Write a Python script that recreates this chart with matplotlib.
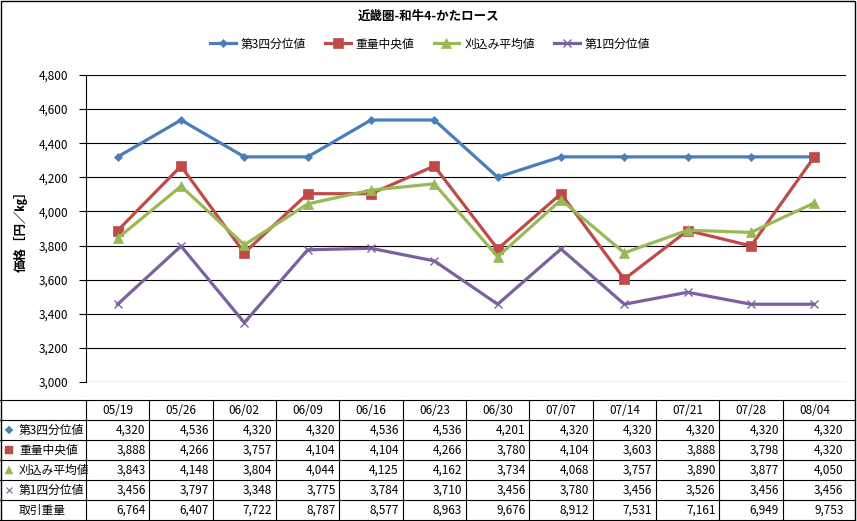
import matplotlib
matplotlib.use("Agg")
import matplotlib.pyplot as plt
from matplotlib.lines import Line2D
from matplotlib.patches import Rectangle
from matplotlib.transforms import blended_transform_factory

plt.rcParams['font.family'] = ['Noto Sans CJK JP', 'DejaVu Sans']

dates = ["05/19", "05/26", "06/02", "06/09", "06/16", "06/23", "06/30",
         "07/07", "07/14", "07/21", "07/28", "08/04"]
q3 = [4320, 4536, 4320, 4320, 4536, 4536, 4201, 4320, 4320, 4320, 4320, 4320]
median = [3888, 4266, 3757, 4104, 4104, 4266, 3780, 4104, 3603, 3888, 3798, 4320]
mean = [3843, 4148, 3804, 4044, 4125, 4162, 3734, 4068, 3757, 3890, 3877, 4050]
q1 = [3456, 3797, 3348, 3775, 3784, 3710, 3456, 3780, 3456, 3526, 3456, 3456]
volume = [6764, 6407, 7722, 8787, 8577, 8963, 9676, 8912, 7531, 7161, 6949, 9753]

names = ["第3四分位値", "重量中央値", "刈込み平均値", "第1四分位値"]
series = [q3, median, mean, q1]
colors = ["#4A7EBB", "#BE4B48", "#98B954", "#7D60A0"]
markers = ["D", "s", "^", "x"]
msizes = [4.5, 6.5, 7, 6]

W, H = 857, 521
fig = plt.figure(figsize=(W / 100, H / 100), dpi=100)

def fx(x):
    return x / W

def fy(y):
    return 1 - y / H

left, right, top, bottom = 86, 846, 75, 382
ax = fig.add_axes([fx(left), fy(bottom), fx(right - left), (bottom - top) / H])

xs = list(range(len(dates)))
handles = []
for name, vals, c, m, ms in zip(names, series, colors, markers, msizes):
    h, = ax.plot(xs, vals, color=c, lw=2.3, marker=m, markersize=ms,
                 markerfacecolor=c, markeredgecolor=c,
                 markeredgewidth=1.0 if m == "x" else 0.5, label=name, zorder=3)
    handles.append(h)

ax.set_xlim(-0.5, len(dates) - 0.5)
ax.set_ylim(3000, 4800)
ax.set_yticks(range(3000, 4801, 200))
ax.set_yticklabels([f"{v:,}" for v in range(3000, 4801, 200)], fontsize=8.5)
ax.set_xticks([])
ax.yaxis.grid(True, color="black", lw=0.8)
ax.set_axisbelow(True)
for s in ["top", "right", "bottom"]:
    ax.spines[s].set_visible(False)
ax.spines["left"].set_color("black")
ax.spines["left"].set_linewidth(0.8)
ax.tick_params(axis="y", length=5, width=0.8, color="black", pad=8)

fig.text(fx(21), fy(228), "価格［円／㎏］", rotation=90, ha="center", va="center",
         fontsize=9, fontweight="bold")

fig.text(0.5, fy(16), "近畿圏-和牛4-かたロース", ha="center", va="center",
         fontsize=9, fontweight="bold")
fig.legend(handles=handles, loc="center", bbox_to_anchor=(fx(430), fy(44)),
           ncol=4, frameon=False, fontsize=8.5, handlelength=2.2,
           columnspacing=1.6, handletextpad=0.4)

# Table
trans = blended_transform_factory(ax.transData, fig.transFigure)
row_y = [400, 420, 440, 460, 480, 500, 520]
x_end = 855
for y in row_y:
    fig.add_artist(Line2D([fx(0), fx(x_end)], [fy(y), fy(y)], color="black",
                          lw=0.8, transform=fig.transFigure))
fig.add_artist(Line2D([fx(left), fx(left)], [fy(400), fy(520)], color="black",
                      lw=0.8, transform=fig.transFigure))
for i in range(1, len(dates)):
    fig.add_artist(Line2D([i - 0.5, i - 0.5], [fy(400), fy(520)], color="black",
                          lw=0.8, transform=trans))

for i, d in enumerate(dates):
    fig.text(i, fy(410), d, transform=trans, ha="center", va="center", fontsize=8.5)

rows = series + [volume]
labels = names + ["取引重量"]
for r, (lab, vals) in enumerate(zip(labels, rows)):
    yc = fy(row_y[r + 1] + 10)
    fig.text(fx(19), yc, lab, ha="left", va="center", fontsize=8.5)
    if r < 4:
        fig.add_artist(Line2D([fx(9)], [yc], marker=markers[r], color=colors[r],
                              markersize=msizes[r] * (0.85 if r != 3 else 0.7),
                              markeredgewidth=0.8 if markers[r] == "x" else 0.3,
                              linestyle="none", transform=fig.transFigure))
    for i, v in enumerate(vals):
        xr = i + 0.44 if i < len(dates) - 1 else i + 0.46
        fig.text(xr, yc, f"{v:,}", transform=trans, ha="right", va="center",
                 fontsize=8.5)

# outer border
fig.add_artist(Rectangle((fx(0.5), fy(520.5)), fx(854.5), (520) / H, fill=False,
                         edgecolor="black", lw=1.0, transform=fig.transFigure))

fig.savefig("out.png", dpi=100, facecolor="white")
